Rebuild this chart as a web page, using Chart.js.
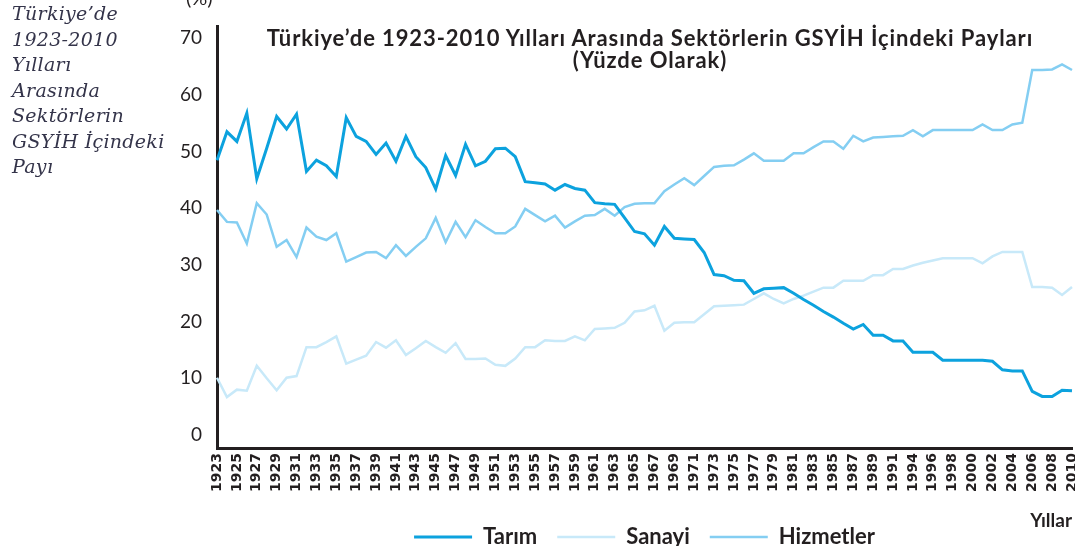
<!DOCTYPE html>
<html>
<head>
<meta charset="utf-8">
<script src="https://cdn.jsdelivr.net/npm/chart.js@4.4.1/dist/chart.umd.min.js"></script>
<style>
  html, body { margin:0; padding:0; background:#fff; }
  body { width:1075px; height:546px; overflow:hidden; position:relative; }
  #wrap { position:absolute; left:0; top:0; width:1075px; height:546px; }
  .side { position:absolute; left:12px; top:1px; font-family:"DejaVu Serif", serif; font-style:italic;
          font-size:19px; line-height:25.5px; color:#34344a; white-space:nowrap; letter-spacing:0.3px; }
  .pct { position:absolute; left:186px; top:-15px; font-family:Lato, sans-serif; font-size:20px; color:#231f20; }
  .ttl { position:absolute; left:250px; top:27px; width:800px; text-align:center; font-family:Lato, sans-serif;
         font-weight:bold; font-size:22px; line-height:22px; letter-spacing:0.9px; color:#231f20; white-space:nowrap; }
</style>
</head>
<body>
<div id="wrap"><canvas id="c"></canvas></div>
<div class="side">Türkiye’de<br>1923-2010<br>Yılları<br>Arasında<br>Sektörlerin<br>GSYİH İçindeki<br>Payı</div>
<div class="pct">(%)</div>
<div class="ttl">Türkiye’de 1923-2010 Yılları Arasında Sektörlerin GSYİH İçindeki Payları<br>(Yüzde Olarak)</div>
<script>
const years = [
  1923,1924,1925,1926,1927,1928,1929,1930,1931,1932,
  1933,1934,1935,1936,1937,1938,1939,1940,1941,1942,
  1943,1944,1945,1946,1947,1948,1949,1950,1951,1952,
  1953,1954,1955,1956,1957,1958,1959,1960,1961,1962,
  1963,1964,1965,1966,1967,1968,1969,1970,1971,1972,
  1973,1974,1975,1976,1977,1978,1979,1980,1981,1982,
  1983,1984,1985,1986,1987,1988,1989,1990,1991,1992,
  1994,1995,1996,1997,1998,1999,2000,2001,2002,2003,
  2004,2005,2006,2007,2008,2009,2010
];
const tarim = [
  48.5,53.5,51.8,56.8,45.2,50.6,56.2,54.0,56.6,46.5,
  48.5,47.5,45.6,56.0,52.7,51.8,49.5,51.5,48.3,52.7,
  49.1,47.2,43.4,49.3,45.8,51.3,47.5,48.3,50.5,50.6,
  49.1,44.7,44.5,44.3,43.2,44.2,43.5,43.2,41.0,40.8,
  40.7,38.3,35.9,35.5,33.5,36.8,34.7,34.6,34.5,32.2,
  28.3,28.1,27.3,27.2,25.0,25.8,25.9,26.0,25.0,23.9,
  22.9,21.8,20.8,19.7,18.7,19.5,17.6,17.6,16.6,16.6,
  14.6,14.6,14.6,13.2,13.2,13.2,13.2,13.2,13.0,11.5,
  11.3,11.3,7.7,6.8,6.8,7.9,7.8
];
const sanayi = [
  10.1,6.7,8.0,7.8,12.2,10.0,7.9,10.1,10.4,15.5,
  15.5,16.4,17.4,12.6,13.3,14.0,16.4,15.4,16.7,14.1,
  15.3,16.6,15.5,14.5,16.2,13.4,13.4,13.5,12.4,12.2,
  13.5,15.5,15.5,16.7,16.6,16.6,17.4,16.7,18.7,18.8,
  18.9,19.8,21.8,22.0,22.8,18.4,19.8,19.9,19.9,21.3,
  22.7,22.8,22.9,23.0,24.0,25.0,24.0,23.2,24.0,24.6,
  25.3,26.0,26.0,27.2,27.2,27.2,28.2,28.2,29.3,29.3,
  29.9,30.4,30.8,31.2,31.2,31.2,31.2,30.3,31.5,32.3,
  32.3,32.3,26.1,26.1,26.0,24.7,26.1
];
const hizmetler = [
  39.7,37.6,37.5,33.8,40.9,38.9,33.2,34.4,31.4,36.6,
  35.0,34.4,35.6,30.6,31.4,32.2,32.3,31.2,33.5,31.6,
  33.2,34.7,38.3,34.0,37.6,34.9,37.9,36.7,35.6,35.6,
  36.8,39.9,38.8,37.7,38.7,36.6,37.7,38.7,38.8,39.9,
  38.7,40.2,40.8,40.9,40.9,43.0,44.2,45.3,44.1,45.7,
  47.3,47.5,47.6,48.6,49.7,48.4,48.4,48.4,49.7,49.7,
  50.8,51.8,51.8,50.5,52.8,51.8,52.5,52.6,52.7,52.8,
  53.8,52.7,53.8,53.8,53.8,53.8,53.8,54.8,53.8,53.8,
  54.8,55.1,64.4,64.4,64.5,65.4,64.4
];
const yTicks = [0,10,20,30,40,50,60,70];
const seriesNames = ['Tarım','Sanayi','Hizmetler'];
const axisTitle = 'Yıllar';

const INK = '#231f20';
Chart.defaults.color = INK;

new Chart(document.getElementById('c'), {
  type: 'line',
  data: {
    labels: years.map(String),
    datasets: [
      { label: seriesNames[0], data: tarim, borderColor:'#0ca2de', backgroundColor:'#0ca2de', borderWidth:3 },
      { label: seriesNames[1], data: sanayi, borderColor:'#c8e9f9', backgroundColor:'#c8e9f9', borderWidth:2.5 },
      { label: seriesNames[2], data: hizmetler, borderColor:'#84cef2', backgroundColor:'#84cef2', borderWidth:2.5 }
    ]
  },
  options: {
    responsive: true,
    maintainAspectRatio: false,
    animation: false,
    elements: { point: { radius: 0, hoverRadius: 0 }, line: { tension: 0 } },
    layout: { padding: { top: 25, left: 0, right: 0, bottom: -12 } },
    plugins: {
      tooltip: { enabled: false },
      title: { display: false },
      legend: {
        position: 'bottom',
        fullSize: false,
        labels: {
          usePointStyle: true,
          pointStyle: 'line',
          pointStyleWidth: 58,
          padding: 20,
          color: INK,
          font: { family: 'Lato', size: 22, weight: 'bold' }
        }
      }
    },
    scales: {
      x: {
        type: 'category',
        offset: false,
        grid: { display: false, drawTicks: false },
        border: { display: true, width: 3, color: INK },
        ticks: {
          autoSkip: false,
          minRotation: 90,
          maxRotation: 90,
          padding: 5,
          color: INK,
          font: { family: 'DejaVu Sans', size: 14, weight: 'bold' },
          callback: function(val, idx) { return idx % 2 === 0 ? this.getLabelForValue(val) : null; }
        },
        title: {
          display: true,
          text: axisTitle,
          align: 'end',
          color: INK,
          padding: { top: 0, bottom: -26 },
          font: { family: 'Lato', size: 19, weight: 'bold' }
        },
        afterFit: s => { s.height = 58; s.paddingRight = 3; s.paddingLeft = 0; }
      },
      y: {
        min: -2.3,
        max: 72.1,
        grid: { display: false, drawTicks: false },
        border: { display: true, width: 3, color: INK },
        afterBuildTicks: s => { s.ticks = yTicks.map(v => ({ value: v })); },
        ticks: {
          padding: 15,
          color: INK,
          font: { family: 'Lato', size: 19 }
        },
        afterFit: s => { s.width = 217; }
      }
    }
  }
});
</script>
</body>
</html>
